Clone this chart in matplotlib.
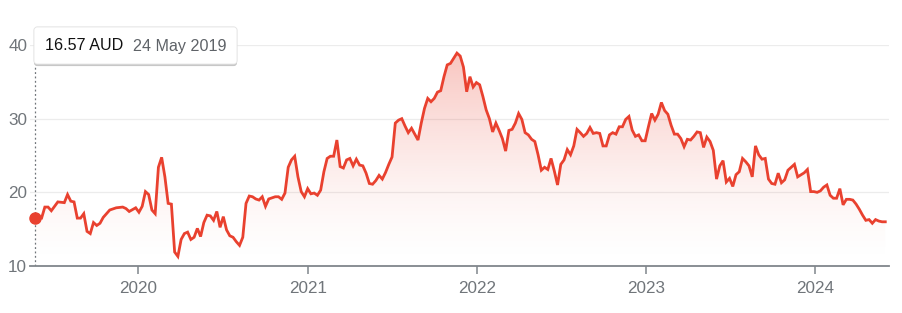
import numpy as np
import pandas as pd
import matplotlib
matplotlib.use('Agg')
import matplotlib.pyplot as plt
import matplotlib.dates as mdates
import matplotlib.patheffects as pe
from matplotlib.colors import to_rgb
from matplotlib.patches import FancyBboxPatch

plt.rcParams['font.family'] = ['Liberation Sans', 'DejaVu Sans']

# weekly closes, counted in weeks from the first close
first_day = '2019-05-24'
week_no = ([0, 2, 3, 4, 5, 7, 9] + list(range(10, 22)) + [23, 25, 27, 28, 29]
           + list(range(31, 73)) + list(range(74, 236)) + list(range(237, 263)))
price = [
    16.57, 16.5, 18.0, 18.0, 17.5, 18.7, 18.6, 19.7, 18.8, 18.7,
    16.5, 16.5, 17.1, 14.7, 14.4, 15.9, 15.5, 15.8, 16.6, 17.6,
    17.9, 18.0, 17.8, 17.4, 17.9, 17.3, 18.1, 20.1, 19.7, 17.6,
    17.1, 23.4, 24.75, 22.1, 18.5, 18.4, 11.9, 11.3, 13.6, 14.4,
    14.6, 13.6, 13.9, 15.1, 14.0, 15.9, 16.9, 16.8, 16.2, 17.4,
    15.25, 16.7, 14.9, 14.1, 13.9, 13.3, 12.8, 13.9, 18.5, 19.5,
    19.4, 19.1, 18.95, 19.4, 18.1, 19.1, 19.4, 19.4, 19.05, 19.9,
    23.4, 24.4, 24.9, 22.1, 20.1, 19.4, 20.5, 19.8, 19.9, 19.6,
    20.3, 22.8, 24.6, 24.9, 24.9, 27.1, 23.5, 23.3, 24.4, 24.6,
    23.6, 24.5, 23.7, 23.6, 22.6, 21.2, 21.1, 21.6, 22.3, 21.8,
    22.7, 23.8, 24.8, 29.4, 29.8, 30.0, 29.0, 28.1, 28.7, 27.9,
    27.1, 29.4, 31.4, 32.75, 32.3, 32.75, 33.6, 33.8, 35.7, 37.3,
    37.5, 38.2, 38.9, 38.5, 37.0, 33.65, 35.7, 34.3, 34.9, 34.6,
    33.0, 31.2, 30.0, 28.2, 29.4, 28.4, 27.3, 25.6, 28.4, 28.55,
    29.4, 30.7, 29.9, 28.1, 27.8, 27.2, 26.9, 25.1, 23.0, 23.4,
    23.1, 24.6, 22.9, 21.0, 23.8, 24.4, 25.8, 25.1, 26.3, 28.55,
    28.1, 27.6, 28.0, 28.8, 28.0, 28.1, 28.0, 26.3, 26.3, 27.8,
    28.1, 27.9, 28.9, 28.9, 29.9, 30.3, 28.45, 27.6, 27.8, 27.0,
    27.0, 28.9, 30.7, 29.8, 30.6, 32.2, 31.1, 30.6, 29.1, 27.9,
    27.9, 27.3, 26.2, 27.2, 27.1, 27.6, 28.2, 28.1, 26.1, 27.5,
    26.9, 25.7, 21.8, 23.6, 24.3, 21.4, 21.9, 20.8, 22.4, 22.8,
    24.6, 24.15, 23.6, 22.1, 26.3, 25.1, 24.5, 24.6, 21.8, 21.2,
    21.1, 22.6, 21.3, 21.7, 23.0, 23.4, 23.8, 22.1, 22.65, 23.1,
    20.1, 20.1, 20.0, 20.2, 20.7, 21.0, 19.6, 19.2, 19.2, 20.5,
    18.3, 19.05, 19.05, 18.95, 18.4, 17.7, 16.9, 16.2, 16.3, 15.8,
    16.3, 16.1, 16.0, 16.0,
]
year_ticks = ['2020-01-01', '2021-01-01', '2022-01-01', '2023-01-01', '2024-01-01']
year_labels = ['2020', '2021', '2022', '2023', '2024']
y_ticks = [10, 20, 30, 40]
tip_price = '16.57 AUD'
tip_date = '24 May 2019'

RED = '#e9412f'
GREY = '#70757a'

dates = pd.Timestamp(first_day) + pd.to_timedelta(np.array(week_no) * 7, unit='D')
price = np.array(price)

W, H = 903, 313
fig = plt.figure(figsize=(W / 100, H / 100), dpi=100)
ax = fig.add_axes([30 / W, 47 / H, 859 / W, 221 / H])

x0 = mdates.date2num(pd.Timestamp('2019-05-13'))
x1 = mdates.date2num(pd.Timestamp('2024-06-08'))

# gradient under the line
poly = ax.fill_between(dates, price, y_ticks[0], facecolor='none', edgecolor='none')
t = np.linspace(0, 1, 256) ** 1.5
grad = np.zeros((256, 1, 4))
grad[:, 0, :3] = to_rgb(RED)
grad[:, 0, 3] = 0.32 * t
im = ax.imshow(grad, extent=[x0, x1, y_ticks[0], y_ticks[-1]], origin='lower',
               aspect='auto', zorder=1)
im.set_clip_path(poly.get_paths()[0], transform=ax.transData)

ax.plot(dates, price, color=RED, lw=2.0, zorder=3, solid_joinstyle='miter')
ax.plot(dates[:1], price[:1], 'o', color=RED, ms=8, zorder=4, clip_on=False)
ax.axvline(dates[0], ymin=0, ymax=0.905, color=GREY, lw=0.9,
           linestyle=(0, (1.5, 2)), zorder=2)

ax.set_xlim(x0, x1)
ax.set_ylim(y_ticks[0], y_ticks[-1])

for yv in y_ticks[1:]:
    ax.axhline(yv, color='#ececec', lw=0.9, zorder=0)

ax.set_yticks(y_ticks)
ax.set_yticklabels([str(v) for v in y_ticks])
ax.set_xticks(pd.to_datetime(year_ticks))
ax.set_xticklabels(year_labels)
ax.tick_params(axis='y', length=0, pad=2, labelsize=12.3, labelcolor=GREY)
ax.tick_params(axis='x', length=6, width=1.1, color='#80868b', pad=4.5,
               labelsize=12.3, labelcolor=GREY)

for s in ['top', 'right', 'left']:
    ax.spines[s].set_visible(False)
ax.spines['bottom'].set_color('#80868b')
ax.spines['bottom'].set_linewidth(1.3)

# tooltip box
bx, by, bw, bh = 34, 27, 203, 37
box = FancyBboxPatch((bx / W, 1 - (by + bh) / H), bw / W, bh / H,
                     boxstyle='round,pad=0,rounding_size=0.0035',
                     mutation_aspect=W / H, transform=fig.transFigure,
                     facecolor='white', edgecolor='#e2e2e2', lw=0.5, zorder=10)
box.set_path_effects([pe.withSimplePatchShadow(offset=(0, -1.5), shadow_rgbFace='black',
                                               alpha=0.22), pe.Normal()])
fig.add_artist(box)
fig.text(45 / W, 1 - 46 / H, tip_price, fontsize=11.6, color='#111111',
         va='center', ha='left', zorder=11)
fig.text(133 / W, 1 - 46 / H, tip_date, fontsize=11.6, color='#5f6368',
         va='center', ha='left', zorder=11)

fig.savefig('out.png', dpi=100)
